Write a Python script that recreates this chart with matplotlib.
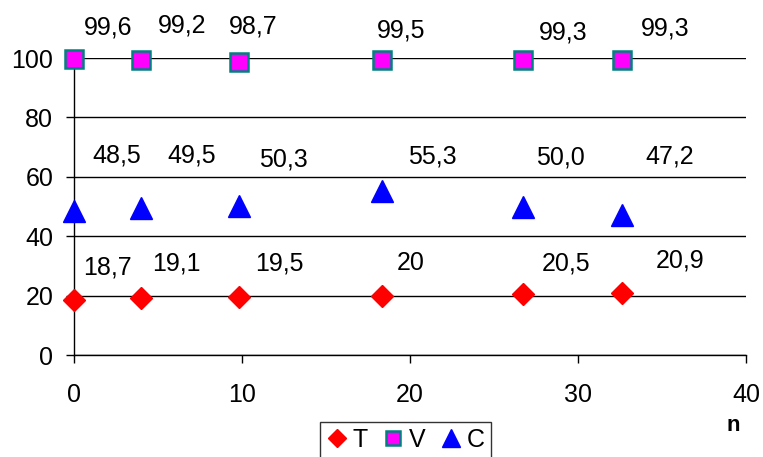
import matplotlib
matplotlib.use("Agg")
import matplotlib.pyplot as plt

plt.rcParams["font.family"] = ["Liberation Sans", "DejaVu Sans"]
plt.rcParams["font.size"] = 18

# data
n_vals = [0, 4, 9.8, 18.3, 26.7, 32.6]
t_vals = [18.7, 19.1, 19.5, 20, 20.5, 20.9]
v_vals = [99.6, 99.2, 98.7, 99.5, 99.3, 99.3]
c_vals = [48.5, 49.5, 50.3, 55.3, 50.0, 47.2]
t_labels = ["18,7", "19,1", "19,5", "20", "20,5", "20,9"]
v_labels = ["99,6", "99,2", "98,7", "99,5", "99,3", "99,3"]
c_labels = ["48,5", "49,5", "50,3", "55,3", "50,0", "47,2"]

# label offsets (pixels) as placed in the original chart
t_off = [(33, 32), (35, 35), (41, 34), (29, 33), (43, 31), (58, 33)]
v_off = [(34, 32), (41, 35), (14, 35), (20, 29), (40, 28), (43, 32)]
c_off = [(43, 56), (50, 53), (45, 46), (51, 34), (38, 49), (48, 58)]

fig = plt.figure(figsize=(7.63, 4.57), dpi=100)
ax = fig.add_axes([0.097, 0.223, 0.881, 0.650])

ax.plot(n_vals, t_vals, linestyle="none", marker="D", ms=11, color="#FF0000",
        mec="#FF0000", label="T", clip_on=False, zorder=3)
ax.plot(n_vals, v_vals, linestyle="none", marker="s", ms=13, color="#FF00FF",
        mec="#008080", mew=1.8, label="V", clip_on=False, zorder=3)
ax.plot(n_vals, c_vals, linestyle="none", marker="^", ms=16, color="#0000FF",
        mec="#0000FF", label="C", clip_on=False, zorder=3)

for vals, labels, offs in [(t_vals, t_labels, t_off),
                           (v_vals, v_labels, v_off),
                           (c_vals, c_labels, c_off)]:
    for x, y, lab, off in zip(n_vals, vals, labels, offs):
        ax.annotate(lab, (x, y), xytext=off, textcoords="offset pixels",
                    ha="center", va="center", annotation_clip=False)

ax.set_xlim(0, 40)
ax.set_ylim(0, 100)
ax.set_xticks([0, 10, 20, 30, 40])
ax.set_yticks([0, 20, 40, 60, 80, 100])
ax.yaxis.grid(True, color="black", linewidth=1)
ax.set_axisbelow(True)
for side in ["top", "right"]:
    ax.spines[side].set_visible(False)
for side in ["left", "bottom"]:
    ax.spines[side].set_color("black")
    ax.spines[side].set_linewidth(1)
ax.tick_params(axis="y", length=6, width=1, pad=9)
ax.tick_params(axis="x", length=6, width=1, pad=14)

fig.text(0.961, 0.07, "n", fontweight="bold", fontsize=16, ha="center", va="center")

leg = fig.legend(loc="upper center", bbox_to_anchor=(0.532, 0.077), ncol=3,
                 frameon=True, fancybox=False, edgecolor="black", markerscale=0.8,
                 handlelength=0.8, handletextpad=0.25, columnspacing=0.6,
                 borderpad=0.25, borderaxespad=0)
leg.get_frame().set_linewidth(1)

fig.savefig("out.png", dpi=100)
